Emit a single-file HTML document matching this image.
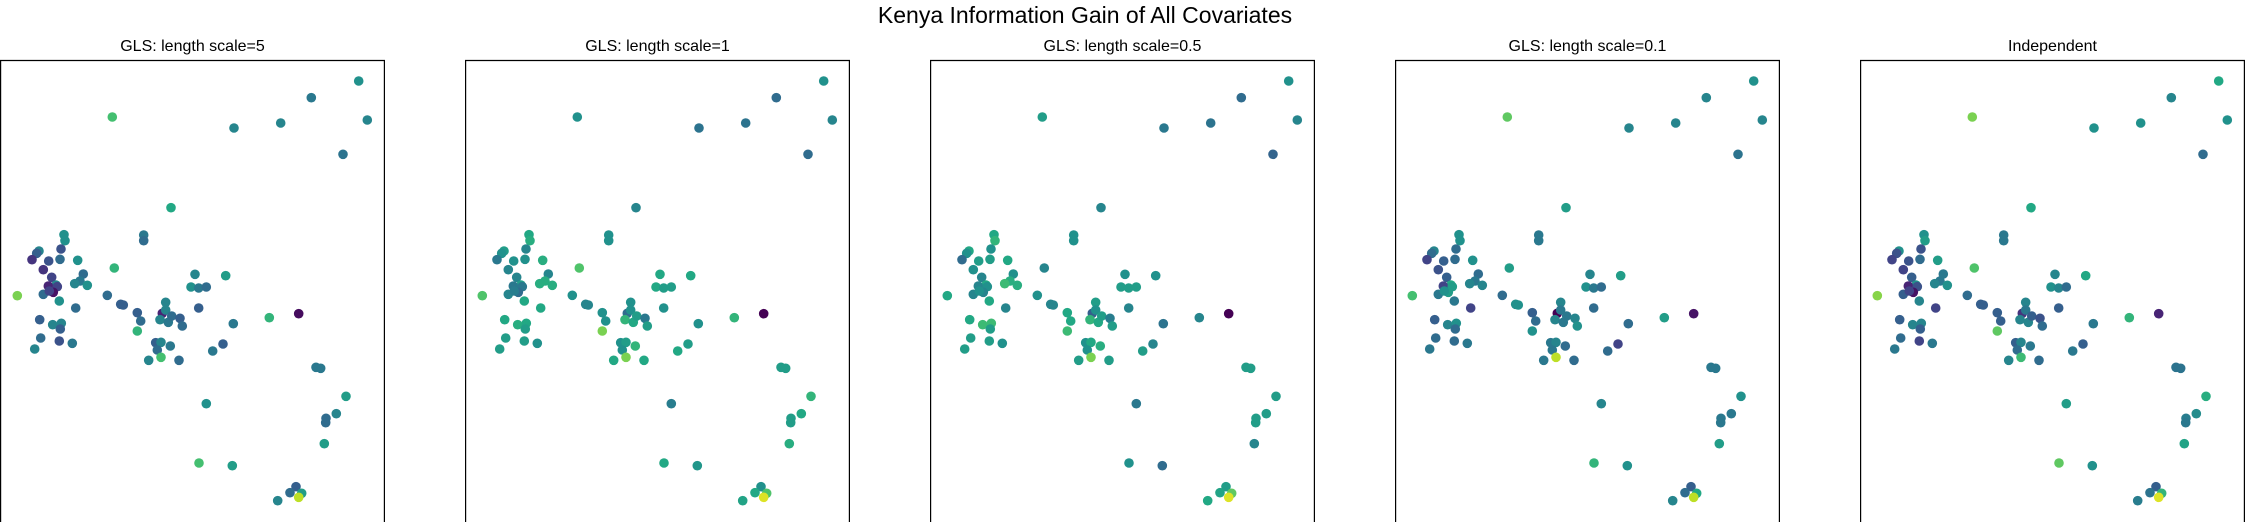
<!DOCTYPE html>
<html><head><meta charset="utf-8"><style>
html,body{margin:0;padding:0;background:#fff;overflow:hidden;}
svg{display:block;font-family:"Liberation Sans","DejaVu Sans",sans-serif;}
</style></head><body>
<svg id="fig" width="2245" height="522" viewBox="0 0 2245 522">
<text x="1085" y="17" text-anchor="middle" dominant-baseline="middle" font-size="23" fill="#000">Kenya Information Gain of All Covariates</text>
<g id="panels"></g>
</svg>
<script>
const panelTitles=["GLS: length scale=5","GLS: length scale=1","GLS: length scale=0.5","GLS: length scale=0.1","Independent"];
const px=[1076,934,337,702,842,1102,1029,513,192,195,431,431,117,110,183,96,146,180,233,343,130,155,250,240,224,262,168,145,172,160,130,148,52,178,227,322,362,370,412,422,487,497,497,480,505,515,540,547,596,585,573,596,619,677,700,808,896,119,158,184,181,122,178,217,104,412,467,483,472,483,511,446,537,638,669,948,962,1038,1009,978,977,973,619,597,697,888,870,905,896,833];
const py=[243,293,351,384,369,360,463,623,704,722,705,722,753,760,747,779,783,778,781,804,809,832,822,843,851,856,855,858,860,877,883,873,887,903,924,886,913,915,938,963,940,907,930,959,967,948,955,978,924,823,861,864,861,827,971,953,941,959,974,970,987,1014,1023,1030,1047,993,1028,1027,1050,1072,1038,1081,1081,1053,1032,1102,1105,1189,1241,1255,1268,1331,1211,1389,1397,1460,1478,1480,1492,1502];
const gain1=[0.5,0.4,0.7,0.45,0.45,0.45,0.38,0.6,0.5,0.5,0.4,0.35,0.45,0.3,0.25,0.15,0.25,0.35,0.5,0.65,0.15,0.2,0.35,0.4,0.45,0.5,0.45,0.1,0.2,0.05,0.35,0.2,0.8,0.5,0.35,0.35,0.3,0.3,0.3,0.35,0.1,0.45,0.45,0.45,0.4,0.35,0.3,0.35,0.3,0.45,0.5,0.4,0.35,0.55,0.4,0.65,0.03,0.3,0.45,0.45,0.3,0.35,0.25,0.4,0.45,0.65,0.3,0.45,0.35,0.7,0.4,0.45,0.35,0.4,0.3,0.4,0.4,0.55,0.45,0.35,0.35,0.55,0.5,0.7,0.55,0.3,0.35,0.55,0.9,0.45];
const gain2=[0.5,0.35,0.5,0.38,0.38,0.45,0.35,0.45,0.6,0.62,0.5,0.5,0.55,0.5,0.45,0.4,0.5,0.5,0.62,0.72,0.45,0.45,0.45,0.62,0.62,0.62,0.55,0.4,0.4,0.35,0.45,0.42,0.72,0.6,0.6,0.5,0.45,0.45,0.5,0.5,0.35,0.5,0.5,0.65,0.6,0.55,0.4,0.55,0.5,0.6,0.6,0.55,0.55,0.6,0.5,0.65,0.0,0.6,0.62,0.6,0.55,0.55,0.55,0.5,0.55,0.8,0.5,0.55,0.5,0.8,0.65,0.6,0.6,0.6,0.55,0.55,0.55,0.65,0.6,0.55,0.55,0.62,0.42,0.6,0.52,0.5,0.6,0.72,0.95,0.58];
const gain3=[0.5,0.35,0.55,0.4,0.38,0.45,0.32,0.45,0.6,0.65,0.5,0.5,0.6,0.5,0.5,0.35,0.55,0.55,0.6,0.45,0.5,0.45,0.5,0.62,0.68,0.62,0.6,0.45,0.5,0.45,0.45,0.5,0.6,0.6,0.45,0.5,0.45,0.45,0.6,0.6,0.3,0.55,0.5,0.65,0.6,0.55,0.42,0.55,0.45,0.5,0.55,0.55,0.55,0.5,0.38,0.45,0.0,0.6,0.68,0.68,0.55,0.55,0.55,0.5,0.55,0.68,0.5,0.6,0.5,0.8,0.62,0.55,0.55,0.55,0.45,0.55,0.55,0.55,0.55,0.55,0.55,0.45,0.4,0.5,0.35,0.55,0.58,0.75,0.95,0.6];
const gain4=[0.5,0.45,0.75,0.45,0.45,0.45,0.38,0.55,0.5,0.5,0.4,0.4,0.45,0.35,0.35,0.2,0.3,0.35,0.5,0.55,0.25,0.3,0.35,0.4,0.45,0.45,0.6,0.2,0.55,0.55,0.4,0.5,0.7,0.4,0.2,0.35,0.5,0.5,0.3,0.35,0.0,0.45,0.4,0.45,0.4,0.4,0.45,0.5,0.35,0.45,0.5,0.4,0.35,0.55,0.35,0.55,0.05,0.3,0.45,0.5,0.35,0.35,0.35,0.4,0.4,0.5,0.4,0.45,0.4,0.9,0.35,0.4,0.35,0.35,0.2,0.4,0.4,0.5,0.4,0.4,0.4,0.55,0.45,0.65,0.5,0.3,0.35,0.6,0.9,0.45];
const gain5=[0.6,0.45,0.8,0.5,0.5,0.5,0.35,0.6,0.5,0.55,0.4,0.4,0.5,0.25,0.25,0.2,0.25,0.35,0.55,0.72,0.2,0.3,0.4,0.4,0.45,0.5,0.5,0.1,0.25,0.05,0.3,0.2,0.82,0.45,0.2,0.35,0.3,0.3,0.3,0.3,0.15,0.45,0.4,0.45,0.45,0.3,0.25,0.35,0.3,0.45,0.5,0.45,0.35,0.6,0.4,0.65,0.1,0.3,0.45,0.45,0.3,0.35,0.2,0.4,0.4,0.75,0.3,0.45,0.35,0.68,0.4,0.45,0.35,0.4,0.3,0.38,0.38,0.62,0.48,0.42,0.4,0.58,0.55,0.75,0.5,0.3,0.38,0.65,0.95,0.42];
const gains=[gain1,gain2,gain3,gain4,gain5];

const VIR=[[68,1,84],[72,36,117],[65,68,135],[53,95,141],[42,120,142],[33,145,140],[34,168,132],[68,191,112],[122,209,81],[189,223,38],[253,231,37]];
function viridis(t){t=Math.max(0,Math.min(1,t));const f=t*(VIR.length-1);const i=Math.min(VIR.length-2,Math.floor(f));const u=f-i;const a=VIR[i],b=VIR[i+1];return `rgb(${Math.round(a[0]+(b[0]-a[0])*u)},${Math.round(a[1]+(b[1]-a[1])*u)},${Math.round(a[2]+(b[2]-a[2])*u)})`;}
const panelLefts=[0,465,930,1395,1860];
const panelW=385, panelTop=60;
function xScale(p,v){return panelLefts[p]+v/3;}
function yScale(v){return v/3;}
const NS="http://www.w3.org/2000/svg";
const g=document.getElementById('panels');
for(let p=0;p<5;p++){
  const pg=document.createElementNS(NS,'g');
  
  
  const t=document.createElementNS(NS,'text');
  t.setAttribute('x',panelLefts[p]+panelW/2);t.setAttribute('y',47);
  t.setAttribute('text-anchor','middle');t.setAttribute('dominant-baseline','middle');
  t.setAttribute('font-size','16');t.textContent=panelTitles[p];
  
  
  pg.appendChild(t);
  for(let i=0;i<px.length;i++){
    const c=document.createElementNS(NS,'circle');
    c.setAttribute('cx',xScale(p,px[i]).toFixed(1));
    c.setAttribute('cy',yScale(py[i]).toFixed(1));
    c.setAttribute('r',4.8);
    c.setAttribute('fill',viridis(gains[p][i]));
    
    
    pg.appendChild(c);
  }
  const r=document.createElementNS(NS,'path');
  const L=panelLefts[p]+0.6, R=panelLefts[p]+panelW-0.6, T=panelTop+0.5;
  r.setAttribute('d',`M${L},522 L${L},${T} L${R},${T} L${R},522`);
  r.setAttribute('fill','none');r.setAttribute('stroke','#000');r.setAttribute('stroke-width','1.2');
  
  
  pg.appendChild(r);
  g.appendChild(pg);
}
</script>
</body></html>
